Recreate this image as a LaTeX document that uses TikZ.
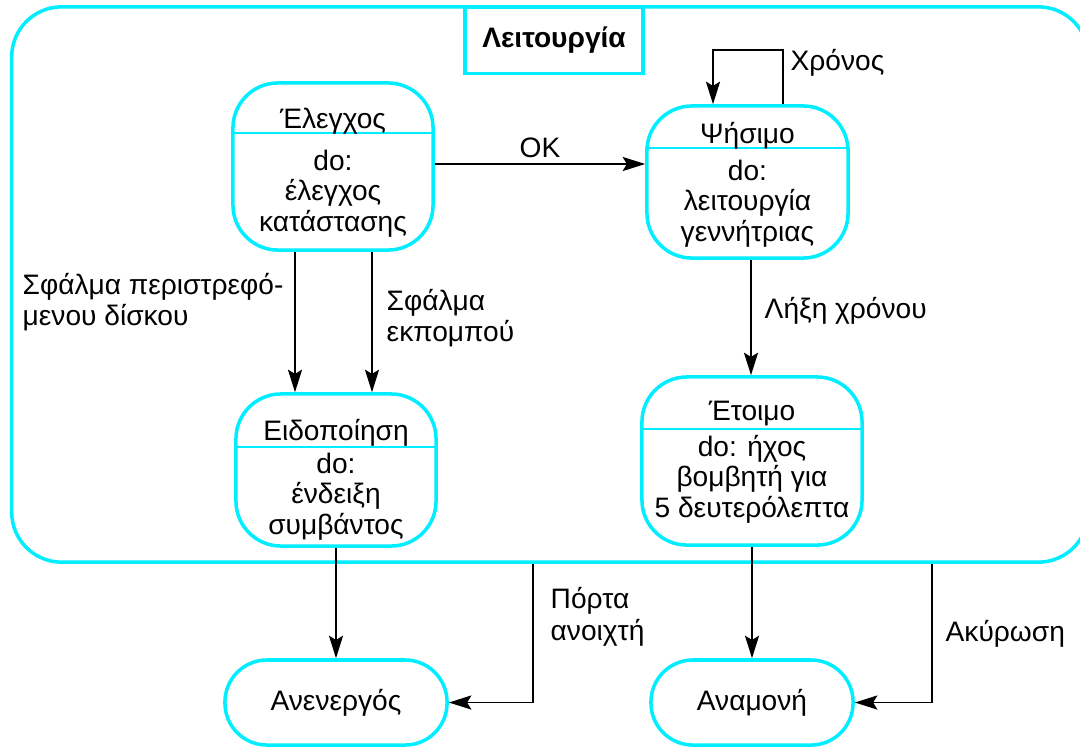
\documentclass[tikz,border=0pt]{standalone}
\usepackage{fontspec}
\setmainfont{Liberation Sans}
\usetikzlibrary{arrows.meta,positioning}
\definecolor{stcyan}{RGB}{0,238,255}

\begin{document}
\begin{tikzpicture}[x=0.01cm, y=-0.01cm, >={Stealth[length=6.4pt,width=4pt,inset=1.2pt]},
    font=\fontsize{8}{8.6}\selectfont,
    state/.style={draw=stcyan, line width=1pt, rounded corners=0.45cm, inner sep=0pt},
    split/.style={draw=stcyan, line width=0.6pt},
    txt/.style={inner sep=0pt, anchor=base, align=center},
    trans/.style={->, line width=0.55pt}]
    \useasboundingbox (0,0) rectangle (1080,748);

    % --- SUPERSTATE AND TITLE ---
    \node[state, rounded corners=0.5cm, minimum width=10.76cm, minimum height=5.55cm] (leitourgia) at (550,284.5) {};
    \node[draw=stcyan, line width=1pt, minimum width=1.78cm, minimum height=0.66cm,
          font=\bfseries\fontsize{8}{8.6}\selectfont] (titlebox) at (554,40.5) {Λειτουργία};

    % --- STATES WITH AN ACTIVITY ---
    \node[state, minimum width=2cm, minimum height=1.67cm] (elegxos) at (333,166.5) {};
    \node[state, minimum width=2.01cm, minimum height=1.52cm] (psisimo) at (747.5,182) {};
    \node[state, minimum width=2cm, minimum height=1.52cm] (eidopoiisi) at (336,470) {};
    \node[state, minimum width=2.2cm, minimum height=1.68cm] (etoimo) at (752,461) {};

    % name / activity dividers
    \draw[split] (elegxos.west |- 0,133) -- (elegxos.east |- 0,133);
    \draw[split] (psisimo.west |- 0,148) -- (psisimo.east |- 0,148);
    \draw[split] (eidopoiisi.west |- 0,447) -- (eidopoiisi.east |- 0,447);
    \draw[split] (etoimo.west |- 0,429) -- (etoimo.east |- 0,429);

    % (base = last line of a multi-line text)
    \node[txt] (elegxos-name) at (333,128) {Έλεγχος};
    \node[txt] (elegxos-do) at (333,231) {do:\\έλεγχος\\κατάστασης};
    \node[txt] (psisimo-name) at (747.5,143) {Ψήσιμο};
    \node[txt] (psisimo-do) at (747.5,241) {do:\\λειτουργία\\γεννήτριας};
    \node[txt] (eidopoiisi-name) at (336,440) {Ειδοποίηση};
    \node[txt] (eidopoiisi-do) at (336,534) {do:\\ένδειξη\\συμβάντος};
    \node[txt] (etoimo-name) at (752,420) {Έτοιμο};
    \node[txt] (etoimo-do) at (752,517) {do: ήχος\\βομβητή για\\5 δευτερόλεπτα};

    % --- FINAL STATES OUTSIDE ---
    \node[state, rounded corners=0.42cm, minimum width=2.22cm, minimum height=0.85cm] (anenergos) at (336,702.5) {Ανενεργός};
    \node[state, rounded corners=0.42cm, minimum width=2.02cm, minimum height=0.85cm] (anamoni) at (752,702.5) {Αναμονή};

    % --- TRANSITIONS ---
    \draw[trans] (elegxos.east |- 0,164) -- (psisimo.west |- 0,164)
        node[midway, above=1.5pt, inner sep=0pt] (lbl-ok) {OK};

    % self loop on Ψήσιμο
    \coordinate (loopR) at (783,50);
    \coordinate (loopL) at (713,50);
    \draw[trans] (psisimo.north -| loopR) -- (loopR) -- (loopL) -- (psisimo.north -| loopL);
    \node[inner sep=0pt, anchor=west] (lbl-xronos) at (790,63) {Χρόνος};

    \draw[trans] (elegxos.south -| 295,0) -- (eidopoiisi.north -| 295,0);
    \draw[trans] (elegxos.south -| 372,0) -- (eidopoiisi.north -| 372,0);
    \node[txt, align=left, anchor=base west] (lbl-disk) at (22,325) {Σφάλμα περιστρεφό-\\μενου δίσκου};
    \node[txt, align=left, anchor=base west] (lbl-tx) at (386,341) {Σφάλμα\\εκπομπού};

    \draw[trans] (psisimo.south -| 751,0) -- (etoimo.north -| 751,0);
    \node[txt, anchor=base west] (lbl-end) at (764,318) {Λήξη χρόνου};

    \draw[trans] (eidopoiisi.south) -- (anenergos.north);
    \draw[trans] (etoimo.south) -- (anamoni.north);

    \draw[trans] (leitourgia.south -| 533,0) |- (anenergos.east);
    \node[txt, align=left, anchor=base west, font=\fontsize{8}{9}\selectfont] (lbl-door) at (550,640) {Πόρτα\\ανοιχτή};

    \draw[trans] (leitourgia.south -| 932,0) |- (anamoni.east);
    \node[txt, anchor=base west] (lbl-cancel) at (945,641) {Ακύρωση};
\end{tikzpicture}
\end{document}
